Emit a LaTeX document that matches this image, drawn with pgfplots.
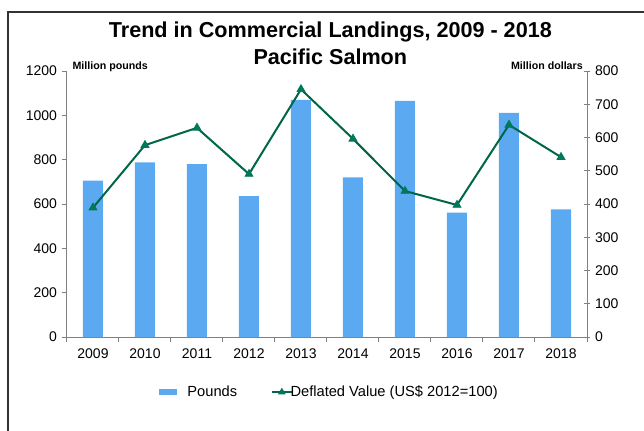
\documentclass[border=0pt]{standalone}
\usepackage{fontspec}
\setmainfont{Liberation Sans}
\usepackage{pgfplots}
\pgfplotsset{compat=1.18}
\usetikzlibrary{calc}
\definecolor{barblue}{RGB}{91,170,241}
\definecolor{linegreen}{RGB}{0,102,72}
\definecolor{markgreen}{RGB}{0,120,90}
\definecolor{axisgray}{RGB}{128,128,128}
\pgfplotsset{
  short line legend/.style={legend image code/.code={%
    \draw[overlay, mark repeat=2, mark phase=2, ##1, mark size=2.8pt]
      plot coordinates {(0pt,0pt) (7.5pt,0pt) (15pt,0pt)};
    \path[draw=none, fill=none] (0pt,-2pt) rectangle (12pt,2pt);}},
}

\begin{document}
\begin{tikzpicture}
\pgfplotsset{
  every axis/.append style={
    width=390pt, height=199.5pt, scale only axis,
    xmin=-0.5, xmax=9.5,
    tick label style={font=\fontsize{10.5}{12}\selectfont},
    /pgf/number format/assume math mode=true,
    /pgf/number format/set thousands separator={},
    axis line style={axisgray, line width=0.75pt},
    tick style={axisgray, line width=0.75pt},
    major tick length=4pt,
  },
}
% pounds, left axis
\begin{axis}[
  name=ax,
  ymin=0, ymax=1200, ytick={0,200,...,1200},
  axis x line*=bottom, axis y line*=left,
  tick align=outside,
  xtick={-0.5,0.5,...,9.5},
  x tick label as interval,
  xticklabels={2009,2010,2011,2012,2013,2014,2015,2016,2017,2018},
  xticklabel style={yshift=-1pt},
]
\addplot[ybar, bar width=15pt, fill=barblue, draw=none] coordinates {
  (0,705) (1,788) (2,780) (3,636) (4,1070) (5,720) (6,1065) (7,561) (8,1011) (9,576)};
\end{axis}
% deflated value, right axis
\begin{axis}[
  ymin=0, ymax=800, ytick={0,100,...,800},
  axis y line*=right, axis x line=none,
  tick align=center, major tick length=5pt,
  legend style={at={(0.505,-0.207)}, anchor=center, draw=none, fill=none,
    legend columns=2, font=\fontsize{11}{13}\selectfont,
    /tikz/every even column/.append style={column sep=24pt}},
]
\addlegendimage{legend image code/.code={\fill[barblue, draw=none] (0pt,-2.25pt) rectangle (13.5pt,2.25pt);
  \path[draw=none, fill=none] (0pt,-2.25pt) rectangle (19.5pt,2.25pt);}}
\addlegendentry{Pounds}
\addplot[color=linegreen, line width=1.5pt, mark=triangle*, mark size=3.5pt,
  mark options={fill=markgreen, draw=markgreen, line width=0.5pt},
  short line legend] coordinates {
  (0,389) (1,577) (2,629) (3,490) (4,745) (5,596) (6,439) (7,397) (8,638) (9,541)};
\addlegendentry{Deflated Value (US\$ 2012=100)}
\end{axis}

\node[font=\bfseries\fontsize{16.2}{20}\selectfont, align=center]
  at ($(ax.north west)+(197.5pt,20.6pt)$) {Trend in Commercial Landings, 2009 - 2018\\Pacific Salmon};
\node[font=\bfseries\fontsize{8}{9}\selectfont, anchor=base west, inner sep=0pt]
  at ($(ax.north west)+(4pt,0.8pt)$) {Million pounds};
\node[font=\bfseries\fontsize{8}{9}\selectfont, anchor=base east, inner sep=0pt]
  at ($(ax.north east)+(-3pt,0.8pt)$) {Million dollars};

\pgfresetboundingbox
\path[use as bounding box] ($(ax.south west)+(-50.25pt,-69.75pt)$) rectangle ($(ax.south west)+(432.75pt,252.75pt)$);
\draw[line width=1.5pt, draw=black!80] ($(ax.south west)+(-44.25pt,-120pt)$) |- ($(ax.south west)+(480pt,243.75pt)$);
\end{tikzpicture}
\end{document}
